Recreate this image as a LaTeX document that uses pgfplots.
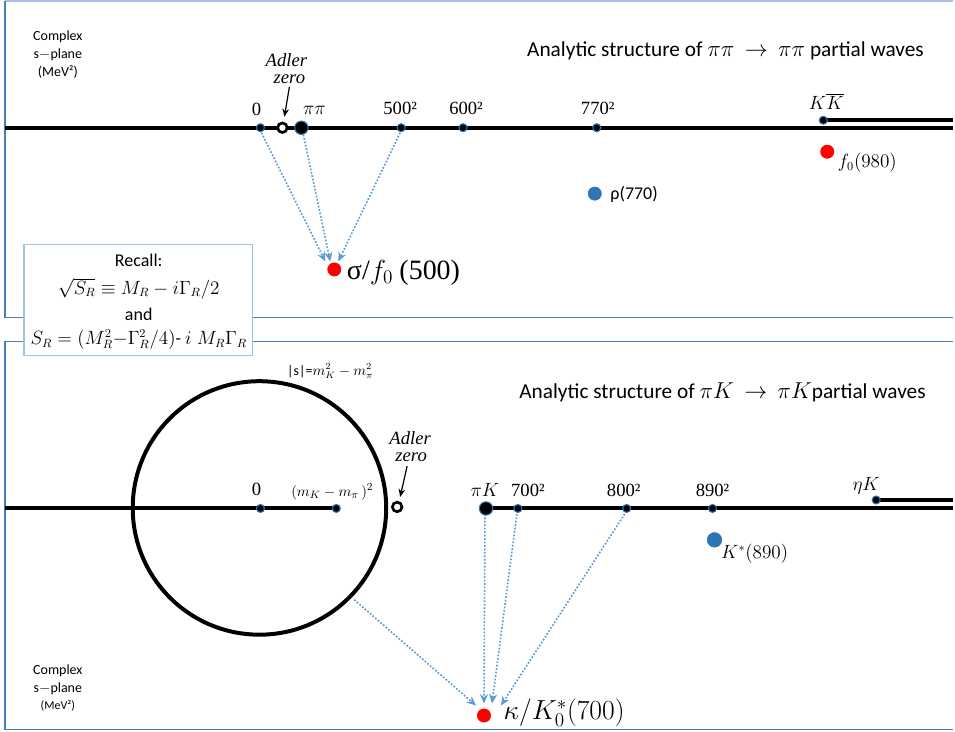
\documentclass[border=0pt]{standalone}
\usepackage{pgfplots}
\pgfplotsset{compat=1.18}
\usepackage{fontspec}
\setmainfont{Carlito}
\newfontfamily\serif{Liberation Serif}
\usetikzlibrary{arrows.meta}
\definecolor{frameblue}{HTML}{4A7EBB}
\definecolor{lightframe}{HTML}{A7C2E0}
\definecolor{boxblue}{HTML}{9DC3E6}
\definecolor{arrowblue}{HTML}{5B9BD5}
\definecolor{dotblue}{HTML}{2E75B6}
\newcommand\myTick{\fontsize{14}{16}\selectfont}
\newcommand\myTitle{\fontsize{16}{19}\selectfont}
\newcommand\myBig{\fontsize{21}{24}\selectfont}
\newcommand\mySmall{\fontsize{10.5}{12}\selectfont}
\begin{document}
\begin{tikzpicture}
\begin{axis}[
  scale only axis, width=716.25pt, height=549.75pt,
  xmin=0, xmax=955, ymin=0, ymax=733, y dir=reverse,
  hide axis, clip=false,
  every axis plot/.append style={forget plot},
]
\addplot[draw=none] coordinates {(0,0) (955,733)};
% panel frames
\addplot[lightframe, line width=1pt] coordinates {(5,1) (955,1)};
\addplot[frameblue, line width=1pt] coordinates {(5,1) (5,318) (955,318)};
\addplot[frameblue, line width=1pt] coordinates {(955,342) (5,342) (5,731) (955,731)};
% Recall box
\addplot[boxblue, line width=1pt, fill=white] coordinates {(24,245) (253,245) (253,356) (24,356) (24,245)};
\node[font=\fontsize{13.5}{15}\selectfont] at (axis cs:139,261) {Recall:};
\node[font=\fontsize{13.5}{15}\selectfont] at (axis cs:139,289) {$\sqrt{S_R}\equiv M_R - i\Gamma_R/2$};
\node[font=\fontsize{13.5}{15}\selectfont] at (axis cs:139,315) {and};
\node[font=\fontsize{13.5}{15}\selectfont, inner sep=0pt] at (axis cs:139,340) {$S_R=(M_R^2{-}\Gamma_R^2/4)$- $i\;M_R\Gamma_R$};

% ===== top panel =====
\node[font=\mySmall] at (axis cs:58,37) {Complex};
\node[font=\mySmall] at (axis cs:58,55) {s$-$plane};
\node[font=\mySmall] at (axis cs:58,72) {(MeV²)};
\node[font=\myTitle] at (axis cs:727,51) {Analytic structure of $\pi\pi\,\rightarrow\,\pi\pi$ partial waves};
% real axis and cut
\addplot[black, line width=3pt] coordinates {(5,128) (955,128)};
\addplot[black, line width=3pt] coordinates {(825,120.5) (955,120.5)};
% dotted arrows to sigma
\addplot[arrowblue, line width=1.2pt, dash pattern=on 1.3pt off 1.3pt, -{Stealth[length=7pt,width=6pt]}] coordinates {(262,133) (326,262)};
\addplot[arrowblue, line width=1.2pt, dash pattern=on 1.3pt off 1.3pt, -{Stealth[length=7pt,width=6pt]}] coordinates {(304,135) (331,262)};
\addplot[arrowblue, line width=1.2pt, dash pattern=on 1.3pt off 1.3pt, -{Stealth[length=7pt,width=6pt]}] coordinates {(401,133) (339,262)};
% Adler arrow
\addplot[black, line width=0.9pt, -{Stealth[length=6pt,width=5pt]}] coordinates {(290,87) (285,117)};
% points
\addplot[only marks, mark=*, mark size=3pt, mark options={fill=black, draw=dotblue, line width=0.8pt}] coordinates {(261,128) (402,128) (464,128) (598,128) (825,120.5)};
\addplot[only marks, mark=*, mark size=5pt, mark options={fill=black, draw=dotblue, line width=0.8pt}] coordinates {(302,128)};
\addplot[only marks, mark=*, mark size=3.6pt, mark options={fill=white, draw=black, line width=2pt}] coordinates {(283,128)};
\addplot[only marks, mark=*, mark size=5pt, mark options={fill=red, draw=red}] coordinates {(335,270) (829,152)};
\addplot[only marks, mark=*, mark size=5pt, mark options={fill=dotblue, draw=dotblue}] coordinates {(596,194)};
% labels
\node[font=\myTick\serif] at (axis cs:257,110) {0};
\node[font=\myTick\serif\itshape] at (axis cs:287,60) {Adler};
\node[font=\myTick\serif\itshape] at (axis cs:290,79) {zero};
\node[font=\myTick] at (axis cs:315,111) {$\pi\pi$};
\node[font=\myTick\serif] at (axis cs:401,109) {500²};
\node[font=\myTick\serif] at (axis cs:467,109) {600²};
\node[font=\myTick\serif] at (axis cs:599,109) {770²};
\node[font=\myTick] at (axis cs:828,102) {$K\overline{K}$};
\node[font=\fontsize{13.5}{15}\selectfont, anchor=west] at (axis cs:835,163) {$f_0(980)$};
\node[font=\fontsize{13.5}{15}\selectfont, anchor=west] at (axis cs:607,195) {ρ(770)};
\node[font=\myBig, anchor=west] at (axis cs:343,273) {{\serif σ/}$f_0$ {\serif (500)}};

% ===== bottom panel =====
\node[font=\myTitle] at (axis cs:724,393) {Analytic structure of $\pi K\,\rightarrow\,\pi K$partial waves};
\node[font=\fontsize{10.5}{12}\selectfont, inner sep=1pt] at (axis cs:331,372) {|s|=$m_K^2-m_\pi^2$};
\draw[black, line width=3pt] (axis cs:260,509) circle[radius=95.25pt];
\addplot[black, line width=3pt] coordinates {(5,509.5) (337,509.5)};
\addplot[black, line width=3pt] coordinates {(486,509.5) (955,509.5)};
\addplot[black, line width=3pt] coordinates {(878,501) (955,501)};
% dotted arrows to kappa
\addplot[arrowblue, line width=1.2pt, dash pattern=on 1.3pt off 1.3pt, -{Stealth[length=7pt,width=6pt]}] coordinates {(355,601) (477,707)};
\addplot[arrowblue, line width=1.2pt, dash pattern=on 1.3pt off 1.3pt, -{Stealth[length=7pt,width=6pt]}] coordinates {(486,515) (485,705)};
\addplot[arrowblue, line width=1.2pt, dash pattern=on 1.3pt off 1.3pt, -{Stealth[length=7pt,width=6pt]}] coordinates {(518,515) (493,705)};
\addplot[arrowblue, line width=1.2pt, dash pattern=on 1.3pt off 1.3pt, -{Stealth[length=7pt,width=6pt]}] coordinates {(626,515) (502,707)};
% Adler arrow
\addplot[black, line width=0.9pt, -{Stealth[length=6pt,width=5pt]}] coordinates {(408,467) (401,498)};
% points
\addplot[only marks, mark=*, mark size=3pt, mark options={fill=black, draw=dotblue, line width=0.8pt}] coordinates {(261,509.5) (337,509.5) (519,509.5) (628,509.5) (714,509.5) (878,501)};
\addplot[only marks, mark=*, mark size=5pt, mark options={fill=black, draw=dotblue, line width=0.8pt}] coordinates {(487,509.5)};
\addplot[only marks, mark=*, mark size=3.6pt, mark options={fill=white, draw=black, line width=2pt}] coordinates {(398,508)};
\addplot[only marks, mark=*, mark size=5.5pt, mark options={fill=dotblue, draw=dotblue}] coordinates {(716,541)};
\addplot[only marks, mark=*, mark size=5pt, mark options={fill=red, draw=red}] coordinates {(485,717)};
% labels
\node[font=\myTick\serif] at (axis cs:257,490) {0};
\node[font=\fontsize{11}{12}\selectfont] at (axis cs:333,493) {$(m_K-m_\pi\,)^2$};
\node[font=\myTick\serif\itshape] at (axis cs:411,439) {Adler};
\node[font=\myTick\serif\itshape] at (axis cs:412,458) {zero};
\node[font=\myTick] at (axis cs:486,491) {$\pi K$};
\node[font=\myTick\serif] at (axis cs:529,491) {700²};
\node[font=\myTick\serif] at (axis cs:625,491) {800²};
\node[font=\myTick\serif] at (axis cs:714,491) {890²};
\node[font=\myTick] at (axis cs:868,487) {$\eta K$};
\node[font=\fontsize{13.5}{15}\selectfont, anchor=west] at (axis cs:718,555) {$K^*(890)$};
\node[font=\myBig, anchor=west] at (axis cs:500,714) {$\kappa/K_0^*(700)$};
\node[font=\mySmall] at (axis cs:58,672) {Complex};
\node[font=\mySmall] at (axis cs:58,690) {s$-$plane};
\node[font=\fontsize{9}{10}\selectfont] at (axis cs:58,707) {(MeV²)};
\end{axis}
\end{tikzpicture}
\end{document}
